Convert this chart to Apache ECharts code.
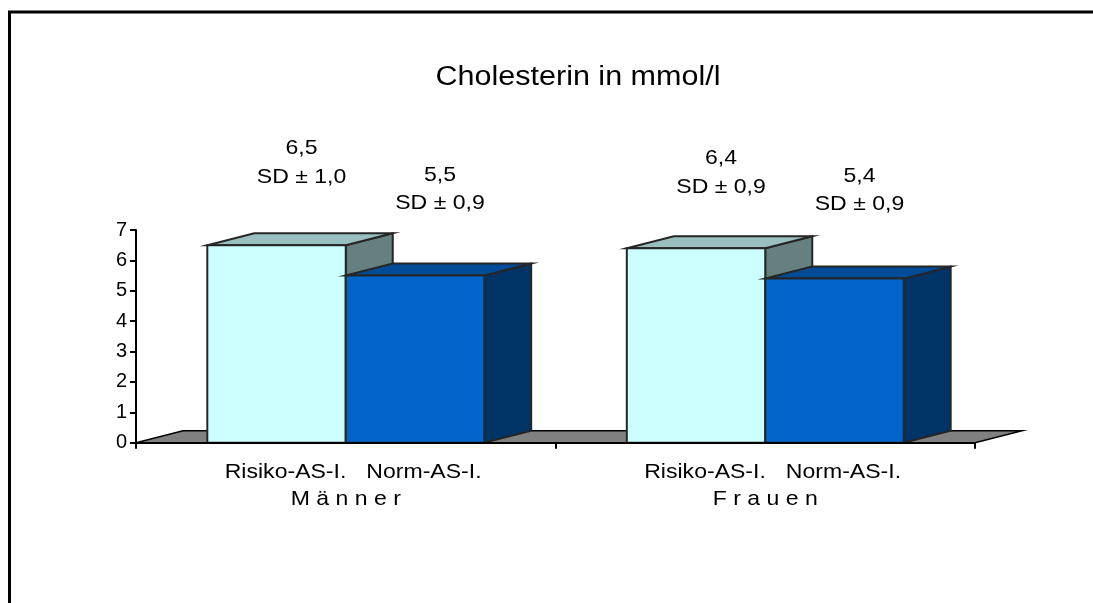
<!DOCTYPE html>
<html>
<head>
<meta charset="utf-8">
<script src="https://cdn.jsdelivr.net/npm/echarts@6/dist/echarts.min.js"></script>
<style>
  html, body { margin: 0; padding: 0; background: #fff; }
  #chart { width: 1093px; height: 603px; }
</style>
</head>
<body>
<div id="chart"></div>
<script>
// ---- data ----
const groups = ['Männer', 'Frauen'];
const seriesNames = ['Risiko-AS-I.', 'Norm-AS-I.'];
const riskMean = [6.5, 6.4];
const normMean = [5.5, 5.4];
const riskSD = [1.0, 0.9];
const normSD = [0.9, 0.9];
const yTickValues = [0, 1, 2, 3, 4, 5, 6, 7];

// ---- layout / style constants ----
const DEPTH_X = 47;          // 3D depth offset, px
const DEPTH_Y = -12;
const BAR_FRAC = 0.33;       // bar width as share of a category slot
const STRETCH = 1.13;        // horizontal text stretch
const FONT = '"Liberation Sans", Arial, sans-serif';
const EDGE = '#262626';
const riskRaise = [68, 61];  // gap between bar top and its SD line
const normRaise = [72, 74];
const LINE_GAP = 28.7;

const riskColors = { front: '#CCFFFF', top: '#99BFBF', side: '#668080' };
const normColors = { front: '#0066CC', top: '#004C99', side: '#003366' };

const fmt = v => v.toFixed(1).replace('.', ',');

function textEl(x, y, text, size) {
  return {
    type: 'text', x: x, y: y, scaleX: STRETCH, silent: true,
    style: {
      text: text, x: 0, y: 0, fill: '#000',
      font: size + 'px ' + FONT, align: 'center', verticalAlign: 'middle'
    }
  };
}

function poly(points, fill) {
  return {
    type: 'polygon',
    shape: { points: points },
    style: { fill: fill, stroke: EDGE, lineWidth: 2, lineJoin: 'miter' }
  };
}

function barSeries(idx, means, sds, colors, raise) {
  return {
    type: 'custom',
    name: seriesNames[idx],
    z: 3,
    data: means.map((v, i) => [i, v]),
    encode: { x: 0, y: 1 },
    renderItem: function (params, api) {
      const i = api.value(0);
      const v = api.value(1);
      const top = api.coord([i, v]);
      const base = api.coord([i, 0]);
      const bw = api.size([1, 0])[0] * BAR_FRAC;
      const xL = idx === 0 ? top[0] - bw : top[0];
      const xR = xL + bw;
      const yT = top[1];
      const yB = base[1];
      const cx = (xL + xR) / 2;
      const sdY = yT - raise[i];
      return {
        type: 'group',
        children: [
          poly([[xR, yT], [xR + DEPTH_X, yT + DEPTH_Y], [xR + DEPTH_X, yB + DEPTH_Y], [xR, yB]], colors.side),
          poly([[xL, yT], [xR, yT], [xR + DEPTH_X, yT + DEPTH_Y], [xL + DEPTH_X, yT + DEPTH_Y]], colors.top),
          poly([[xL, yT], [xR, yT], [xR, yB], [xL, yB]], colors.front),
          textEl(cx + 25, sdY - LINE_GAP, fmt(means[i]), 20.4),
          textEl(cx + 25, sdY, 'SD \u00B1 ' + fmt(sds[i]), 20.4),
          textEl(cx + 9, yB + 30, seriesNames[idx], 20.4)
        ]
      };
    }
  };
}

const chart = echarts.init(document.getElementById('chart'), null, { renderer: 'canvas' });

chart.setOption({
  animation: false,
  backgroundColor: '#fff',
  graphic: [
    {
      type: 'rect', silent: true,
      shape: { x: 9.5, y: 12, width: 1200, height: 700 },
      style: { fill: 'none', stroke: '#000', lineWidth: 3 }
    },
    {
      type: 'text', x: 578, y: 77.8, scaleX: STRETCH, silent: true,
      style: {
        text: 'Cholesterin in mmol/l', x: 0, y: 0, fill: '#000',
        font: '27px ' + FONT, align: 'center', verticalAlign: 'middle'
      }
    }
  ],
  grid: { left: 136, top: 230, width: 839, height: 212.7 },
  xAxis: {
    type: 'category',
    data: groups,
    z: 5,
    axisLine: { lineStyle: { color: '#000', width: 2 } },
    axisTick: { show: true, length: 6, lineStyle: { color: '#000', width: 2 } },
    axisLabel: { show: false },
    splitLine: { show: false }
  },
  yAxis: {
    type: 'value',
    min: yTickValues[0],
    max: yTickValues[yTickValues.length - 1],
    interval: 1,
    z: 5,
    axisLine: { show: true, lineStyle: { color: '#000', width: 2 } },
    axisTick: { show: true, length: 6, lineStyle: { color: '#000', width: 2 } },
    axisLabel: { color: '#000', fontSize: 20, fontFamily: FONT, margin: 9 },
    splitLine: { show: false }
  },
  series: [
    {
      // floor of the 3D plot and the group captions
      type: 'custom',
      z: 1,
      data: groups.map((g, i) => [i, 0]),
      encode: { x: 0, y: 1 },
      renderItem: function (params, api) {
        const i = api.value(0);
        const p = api.coord([i, 0]);
        const half = api.size([1, 0])[0] / 2;
        const children = [
          textEl(p[0], p[1] + 57, groups[i].split('').join(' '), 20.4)
        ];
        if (i === 0) {
          const last = api.coord([groups.length - 1, 0]);
          const x0 = p[0] - half, x1 = last[0] + half, y = p[1];
          children.unshift({
            type: 'polygon',
            shape: { points: [[x0, y], [x1, y], [x1 + DEPTH_X, y + DEPTH_Y], [x0 + DEPTH_X, y + DEPTH_Y]] },
            style: { fill: '#808080', stroke: '#000', lineWidth: 1.5 }
          });
        }
        return { type: 'group', children: children };
      }
    },
    barSeries(0, riskMean, riskSD, riskColors, riskRaise),
    barSeries(1, normMean, normSD, normColors, normRaise)
  ]
});
</script>
</body>
</html>
